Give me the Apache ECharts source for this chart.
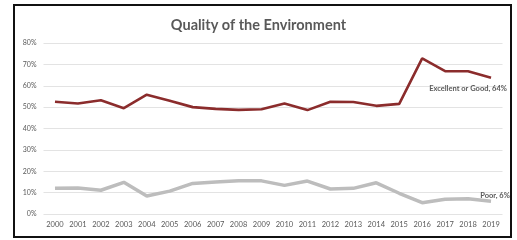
<!DOCTYPE html>
<html>
<head>
<meta charset="utf-8">
<script src="https://cdn.jsdelivr.net/npm/echarts@6/dist/echarts.min.js"></script>
<style>
  html, body { margin: 0; padding: 0; background: #fff; }
  #chart { width: 517px; height: 240px; }
</style>
</head>
<body>
<div id="chart"></div>
<script>
var years = ['2000', '2001', '2002', '2003', '2004', '2005', '2006', '2007', '2008', '2009',
    '2010', '2011', '2012', '2013', '2014', '2015', '2016', '2017', '2018', '2019'];
var good = [52.5, 51.7, 53.2, 49.5, 55.8, 53, 50, 49.2, 48.7, 49, 51.7, 48.6, 52.5, 52.4, 50.6, 51.5, 72.8, 66.8, 66.8, 63.8];
var poor = [12.1, 12.2, 11.1, 14.8, 8.4, 10.7, 14.3, 15, 15.6, 15.5, 13.4, 15.4, 11.7, 12, 14.6, 9.7, 5.3, 6.9, 7.1, 6];
var yTicks = [0, 10, 20, 30, 40, 50, 60, 70, 80];

var chart = echarts.init(document.getElementById('chart'));

// 最后一个点带标签
function withEndLabel(arr, text, pos, offset) {
    return arr.map(function (v, i) {
        if (i !== arr.length - 1) return v;
        return {
            value: v,
            label: {
                show: true, position: pos, offset: offset, formatter: text,
                fontSize: 7.5, fontWeight: 'bold', color: '#595959', fontFamily: 'Lato'
            }
        };
    });
}

chart.setOption({
    animation: false,
    title: {
        text: 'Quality of the Environment',
        left: 'center', top: 13,
        textStyle: { fontSize: 14.5, fontWeight: 'bold', color: '#595959', fontFamily: 'Lato' }
    },
    graphic: [{
        type: 'rect', shape: { x: 14, y: 5, width: 497, height: 232 },
        style: { fill: 'none', stroke: '#111', lineWidth: 2 }, silent: true
    }],
    grid: { left: 43.5, right: 14.5, top: 43, bottom: 26 },
    xAxis: {
        type: 'category', data: years, boundaryGap: true,
        axisLine: { show: false }, axisTick: { show: false },
        axisLabel: { fontSize: 7.5, color: '#595959', fontFamily: 'Lato', margin: 7 }
    },
    yAxis: {
        type: 'value', min: yTicks[0], max: yTicks[yTicks.length - 1], interval: 10,
        axisLine: { show: false }, axisTick: { show: false },
        axisLabel: { fontSize: 7, color: '#595959', fontFamily: 'Lato', margin: 7,
            formatter: function (v) { return v + '%'; } },
        splitLine: { lineStyle: { color: '#e3e3e3', width: 1 } }
    },
    series: [{
        name: 'Excellent or Good', type: 'line', symbol: 'circle', symbolSize: 0.1, showSymbol: true,
        data: withEndLabel(good, 'Excellent or Good, 64%', 'bottom', [-23, 2]),
        itemStyle: { color: '#8b2c2c' },
        lineStyle: { color: '#8b2c2c', width: 2.6 }
    }, {
        name: 'Poor', type: 'line', symbol: 'circle', symbolSize: 0.1, showSymbol: true,
        data: withEndLabel(poor, 'Poor, 6%', 'top', [4, 3]),
        itemStyle: { color: '#bdbdbd' },
        lineStyle: { color: '#bdbdbd', width: 3.5 }
    }]
});
</script>
</body>
</html>
